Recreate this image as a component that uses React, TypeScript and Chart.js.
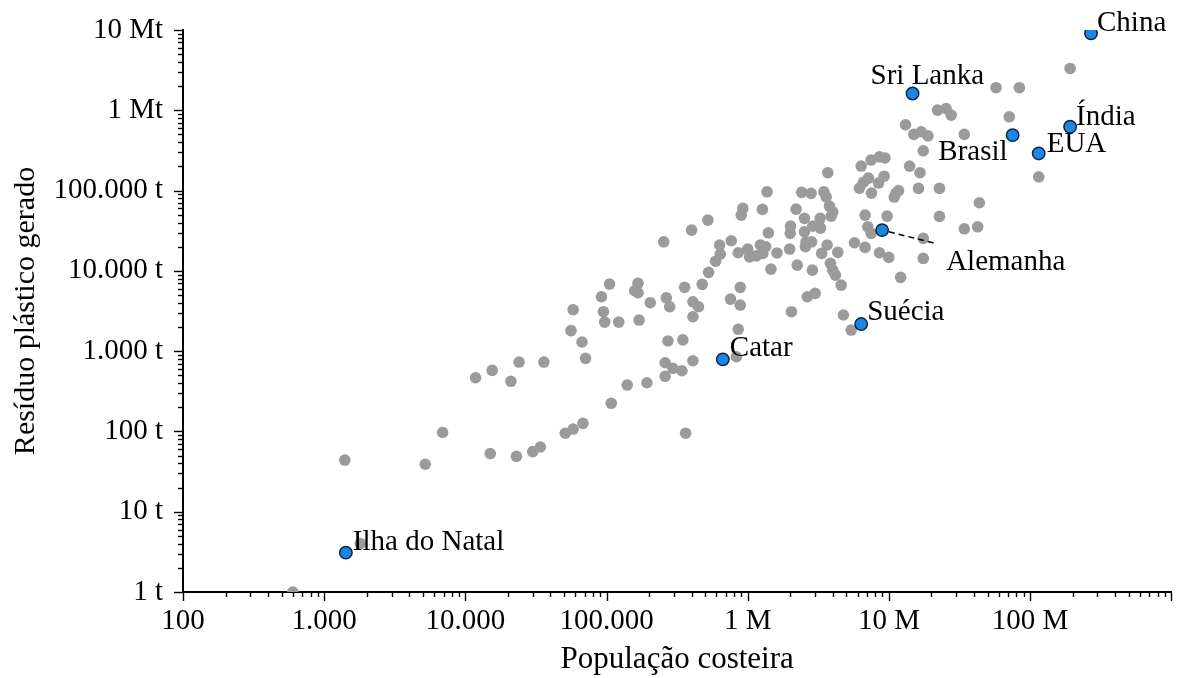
import { useEffect, useRef } from 'react';
import { Chart, registerables } from 'chart.js';

Chart.register(...registerables);

// ---------- data ----------
const otherPopulation = [
  600, 1400, 1800, 5200, 6900, 15000, 23000, 30000, 34000, 51000,
  58000, 68000, 108000, 140000, 193000, 260000, 295000, 342000, 260000, 409000,
  272000, 347000, 363000, 830000, 856000, 755000, 885000, 885000, 2040000, 1460000,
  409000, 448000, 409000, 476000, 357000, 280000, 265000, 204000, 170000, 167000,
  158000, 167000, 122000, 97000, 95000, 92000, 105000, 58000, 56000, 67000,
  71000, 36000, 24000, 15500, 11800, 21000, 528000, 592000, 639000, 856000,
  1030000, 1150000, 1280000, 1610000, 1980000, 2240000, 254000, 400000, 522000, 923000,
  899000, 1270000, 1370000, 764000, 632000, 1000000, 1230000, 1340000, 1400000, 2010000,
  2000000, 2200000, 2410000, 2810000, 3460000, 3590000, 3690000, 2520000, 2890000, 3260000,
  3280000, 2520000, 2590000, 2830000, 2560000, 2870000, 3340000, 3650000, 3790000, 4000000,
  3900000, 4340000, 3850000, 4000000, 4180000, 4590000, 2640000, 3000000, 4760000, 5400000,
  5700000, 6780000, 6780000, 7080000, 7480000, 8570000, 9970000, 9710000, 12100000, 17500000,
  17500000, 22800000, 22800000, 16200000, 16600000, 14000000, 17500000, 13100000, 15000000, 16900000,
  18900000, 22100000, 25400000, 27600000, 6360000, 7480000, 8570000, 9370000, 9250000, 6180000,
  6600000, 7160000, 7520000, 8430000, 11200000, 11700000, 10900000, 34200000, 42500000, 43700000,
  192000000, 57400000, 83900000, 71200000, 34200000, 115000000,
];
const otherWaste = [
  1, 44, 4, 39, 97, 53, 49, 56, 64, 95,
  107, 126, 224, 378, 404, 486, 611, 570, 717, 759,
  1340, 1380, 95, 852, 1870, 4450, 3750, 6230, 3100, 10500,
  2680, 3570, 4120, 6790, 6230, 3570, 4620, 4010, 2440, 5340,
  5650, 6990, 2300, 2300, 3100, 4760, 6850, 3280, 1800, 1300,
  813, 731, 731, 576, 466, 421, 9580, 13200, 16200, 16800,
  14900, 15400, 16500, 16700, 18700, 11800, 23000, 32200, 42900, 60000,
  49500, 58300, 96600, 23700, 21000, 18700, 21000, 20000, 29800, 36100,
  29300, 58800, 95000, 92300, 96600, 83700, 167000, 45100, 36100, 45100,
  34100, 30700, 23000, 23000, 20000, 10200, 16500, 21000, 64100, 54400,
  48100, 17000, 12400, 10200, 8860, 6650, 4760, 5240, 2820, 1830,
  22400, 49500, 19600, 35400, 29300, 16800, 14700, 48100, 8300, 25400,
  14300, 47700, 106500, 106500, 167000, 202000, 313000, 660000, 501000, 540000,
  480000, 1005000, 1050000, 871000, 202000, 240000, 263000, 255000, 151000, 107000,
  127000, 143000, 93000, 124000, 92300, 100000, 83000, 33400, 35400, 70500,
  3320000, 1910000, 1910000, 830000, 501000, 148500,
];

const highlightNames = ['China', 'Sri Lanka', 'Índia', 'Brasil', 'EUA', 'Alemanha', 'Suécia', 'Catar', 'Ilha do Natal'];
const highlightPopulation = [270000000, 14700000, 192000000, 75200000, 115000000, 8950000, 6360000, 666000, 1424];
const highlightWaste = [9070000, 1620000, 623000, 491000, 290000, 32200, 2175, 790, 3.09];

const xTickValues = [100, 1000, 10000, 100000, 1000000, 10000000, 100000000];
const xTickLabels = ['100', '1.000', '10.000', '100.000', '1 M', '10 M', '100 M'];
const yTickValues = [1, 10, 100, 1000, 10000, 100000, 1000000, 10000000];
const yTickLabels = ['1 t', '10 t', '100 t', '1.000 t', '10.000 t', '100.000 t', '1 Mt', '10 Mt'];

const xTitle = 'População costeira';
const yTitle = 'Resíduo plástico gerado';

// ---------- styling ----------
const FONT = '"Liberation Serif", "Times New Roman", Times, serif';
const TEXT_SIZE = 29;
const GRAY = '#9b9b9b';
const BLUE = '#1a86e6';
const BLUE_EDGE = '#0f2440';

// label placement relative to each highlighted point (pixels)
const labelPlacement: { dx: number; dy: number; align: CanvasTextAlign; leader?: [number, number] }[] = [
  { dx: 6, dy: -2, align: 'left' },
  { dx: -42, dy: -9, align: 'left' },
  { dx: 6, dy: -2, align: 'left' },
  { dx: -5, dy: 25, align: 'right' },
  { dx: 8, dy: -1, align: 'left' },
  { dx: 64, dy: 40, align: 'left', leader: [52, 13] },
  { dx: 6, dy: -4, align: 'left' },
  { dx: 7, dy: -3, align: 'left' },
  { dx: 7, dy: -3, align: 'left' },
];

function logTicks(min: number, max: number) {
  const out: { value: number; major: boolean }[] = [];
  for (let e = Math.floor(Math.log10(min)); e <= Math.ceil(Math.log10(max)); e++) {
    for (let m = 1; m < 10; m++) {
      const v = parseFloat((m * Math.pow(10, e)).toPrecision(12));
      if (v >= min * 0.999999 && v <= max * 1.000001) out.push({ value: v, major: m === 1 });
    }
  }
  return out;
}

function labelFor(values: number[], labels: string[], v: number) {
  for (let i = 0; i < values.length; i++) {
    if (Math.abs(values[i] - v) / values[i] < 1e-6) return labels[i];
  }
  return '';
}

const tickMarks = {
  id: 'tickMarks',
  afterDraw(chart: any) {
    const { ctx, chartArea } = chart;
    const xs = chart.scales.x;
    const ys = chart.scales.y;
    ctx.save();
    ctx.strokeStyle = '#000';
    ctx.lineWidth = 1.4;
    xs.ticks.forEach((t: any) => {
      const px = Math.round(xs.getPixelForValue(t.value)) + 0.5;
      const len = t.major ? 9 : 5;
      ctx.beginPath();
      ctx.moveTo(px, chartArea.bottom);
      ctx.lineTo(px, chartArea.bottom + len);
      ctx.stroke();
    });
    ys.ticks.forEach((t: any) => {
      const py = Math.round(ys.getPixelForValue(t.value)) + 0.5;
      const len = t.major ? 9 : 5;
      ctx.beginPath();
      ctx.moveTo(chartArea.left, py);
      ctx.lineTo(chartArea.left - len, py);
      ctx.stroke();
    });
    ctx.restore();
  },
};

const pointLabels = {
  id: 'pointLabels',
  afterDatasetsDraw(chart: any) {
    const { ctx } = chart;
    const meta = chart.getDatasetMeta(1);
    ctx.save();
    ctx.font = `${TEXT_SIZE}px ${FONT}`;
    ctx.fillStyle = '#000';
    ctx.textBaseline = 'alphabetic';
    meta.data.forEach((el: any, i: number) => {
      const p = labelPlacement[i];
      if (p.leader) {
        const [lx, ly] = p.leader;
        const d = Math.hypot(lx, ly);
        ctx.save();
        ctx.strokeStyle = '#000';
        ctx.lineWidth = 1.5;
        ctx.setLineDash([6, 4]);
        ctx.beginPath();
        ctx.moveTo(el.x + (lx / d) * 7, el.y + (ly / d) * 7);
        ctx.lineTo(el.x + lx, el.y + ly);
        ctx.stroke();
        ctx.restore();
      }
      ctx.textAlign = p.align;
      ctx.fillText(highlightNames[i], el.x + p.dx, el.y + p.dy);
    });
    ctx.restore();
  },
};

export default function App() {
  const canvasRef = useRef<HTMLCanvasElement | null>(null);

  useEffect(() => {
    if (!canvasRef.current) return;
    const others = otherPopulation.map((x, i) => ({ x, y: otherWaste[i] }));
    const highlights = highlightPopulation.map((x, i) => ({ x, y: highlightWaste[i] }));

    const chart = new Chart(canvasRef.current, {
      type: 'scatter',
      data: {
        datasets: [
          {
            data: others,
            backgroundColor: GRAY,
            borderWidth: 0,
            pointRadius: 5.8,
            pointHoverRadius: 5.8,
            order: 2,
            clip: 0,
          },
          {
            data: highlights,
            backgroundColor: BLUE,
            borderColor: BLUE_EDGE,
            borderWidth: 1.5,
            pointRadius: 6.2,
            pointHoverRadius: 6.2,
            order: 1,
          },
        ],
      },
      options: {
        animation: false,
        responsive: true,
        maintainAspectRatio: false,
        events: [],
        layout: { padding: { left: 0, right: 6, top: 30, bottom: 0 } },
        plugins: { legend: { display: false }, tooltip: { enabled: false } },
        scales: {
          x: {
            type: 'logarithmic',
            min: 100,
            max: 1e9,
            z: 1,
            grid: { display: false, drawTicks: true, tickLength: 8 },
            border: { display: true, color: '#000', width: 2 },
            afterBuildTicks: (scale: any) => {
              scale.ticks = logTicks(100, 1e9);
            },
            afterFit: (scale: any) => {
              scale.height = 86;
            },
            ticks: {
              autoSkip: false,
              maxRotation: 0,
              padding: 4,
              color: '#000',
              font: { family: FONT, size: TEXT_SIZE },
              callback: (v: any) => labelFor(xTickValues, xTickLabels, Number(v)),
            },
            title: {
              display: true,
              text: xTitle,
              color: '#000',
              font: { family: FONT, size: 31 },
              padding: { top: 0, bottom: 0 },
            },
          },
          y: {
            type: 'logarithmic',
            min: 1,
            max: 1e7,
            z: 1,
            grid: { display: false, drawTicks: true, tickLength: 14 },
            border: { display: true, color: '#000', width: 2 },
            afterBuildTicks: (scale: any) => {
              scale.ticks = logTicks(1, 1e7);
            },
            afterFit: (scale: any) => {
              scale.width = 183;
            },
            ticks: {
              autoSkip: false,
              padding: 6,
              color: '#000',
              font: { family: FONT, size: TEXT_SIZE },
              callback: (v: any) => labelFor(yTickValues, yTickLabels, Number(v)),
            },
            title: {
              display: true,
              text: yTitle,
              color: '#000',
              font: { family: FONT, size: 30 },
              padding: { top: 8, bottom: 0 },
            },
          },
        },
      },
      plugins: [pointLabels, tickMarks],
    } as any);

    return () => chart.destroy();
  }, []);

  return (
    <div style={{ position: 'fixed', left: 0, top: 0, width: 1179, height: 678, background: '#fff' }}>
      <canvas ref={canvasRef} />
    </div>
  );
}
